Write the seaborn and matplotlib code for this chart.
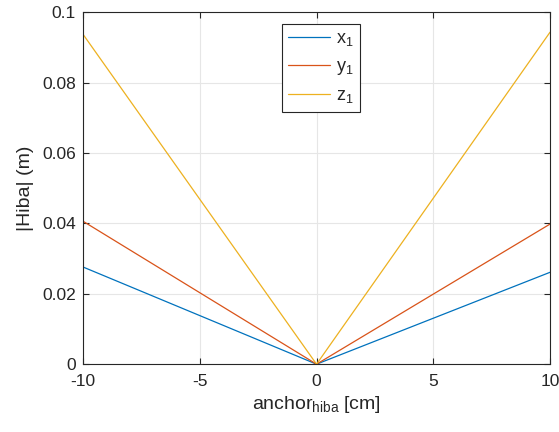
import numpy as np
import pandas as pd
import matplotlib
matplotlib.use("Agg")
import matplotlib.pyplot as plt
import seaborn as sns

# data
anchor = [-10, 0, 10]
x1 = [0.0276, 0.0, 0.0261]
y1 = [0.0406, 0.0, 0.0398]
z1 = [0.0937, 0.0, 0.0943]
labels = ["$\\mathregular{x_1}$", "$\\mathregular{y_1}$", "$\\mathregular{z_1}$"]

sns.set_style("whitegrid")
plt.rcParams['font.family'] = ['Liberation Sans', 'DejaVu Sans']
plt.rcParams['mathtext.fontset'] = 'custom'
plt.rcParams['mathtext.rm'] = 'Liberation Sans'
plt.rcParams['mathtext.it'] = 'Liberation Sans'
plt.rcParams['axes.unicode_minus'] = False

df = pd.DataFrame({"anchor": anchor * 3,
                   "val": x1 + y1 + z1,
                   "series": [labels[0]] * 3 + [labels[1]] * 3 + [labels[2]] * 3})

fig = plt.figure(figsize=(5.59, 4.32), dpi=100)
ax = fig.add_axes([0.1485, 0.157, 0.8355, 0.815])
palette = ["#0072BD", "#D95319", "#EDB120"]
sns.lineplot(data=df, x="anchor", y="val", hue="series", palette=palette,
             linewidth=0.9, ax=ax)

ax.set_xlim(-10, 10)
ax.set_ylim(0, 0.1)
ax.set_xticks([-10, -5, 0, 5, 10])
ax.set_yticks([0, 0.02, 0.04, 0.06, 0.08, 0.1])
ax.set_yticklabels(["0", "0.02", "0.04", "0.06", "0.08", "0.1"])
ax.grid(True, color="#e6e6e6", linewidth=0.8)
for s in ax.spines.values():
    s.set_color("#262626")
    s.set_linewidth(0.8)
ax.tick_params(direction="in", length=4, color="#262626", labelsize=12.5,
               labelcolor="#262626", top=True, right=True, bottom=True, left=True)
ax.tick_params(axis="x", pad=7)
ax.tick_params(axis="y", pad=5)
ax.set_xlabel("anchor$\\mathregular{_{hiba}}$ [cm]", fontsize=14, color="#262626", labelpad=4)
ax.set_ylabel("|Hiba| (m)", fontsize=14, color="#262626", labelpad=6)

leg = ax.legend(loc="upper center", bbox_to_anchor=(0.51, 0.966), fontsize=13,
                frameon=True, fancybox=False, edgecolor="#262626",
                handlelength=2.3, borderpad=0.35, labelspacing=0.55, handletextpad=0.35,
                borderaxespad=0)
leg.get_frame().set_linewidth(0.8)
leg.get_frame().set_alpha(1)

fig.savefig("out.png", dpi=100)
